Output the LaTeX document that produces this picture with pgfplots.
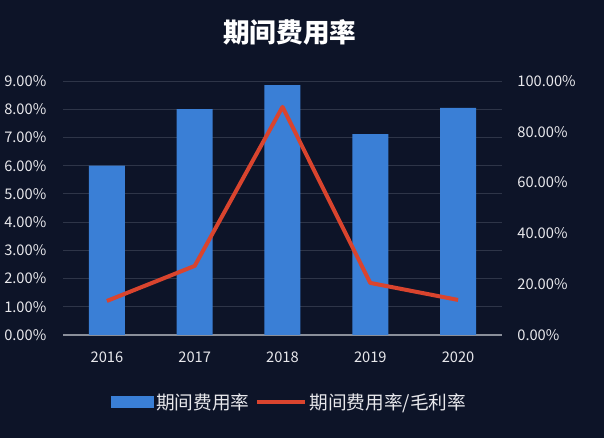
\documentclass[border=0pt]{standalone}
\usepackage{pgfplots}
\pgfplotsset{compat=1.18}
\usepackage{fontspec}
\setmainfont{Noto Sans CJK SC}
\definecolor{bg}{HTML}{0D1428}
\definecolor{barblue}{HTML}{3A7FD6}
\definecolor{linered}{HTML}{D9442E}
\definecolor{gridc}{HTML}{2E3548}
\definecolor{axisc}{HTML}{8A8F9A}
\definecolor{tickc}{HTML}{E8E8EC}

\begin{document}
\begin{tikzpicture}
% picture frame: 604x438 px at 0.75pt per px, origin at the plot's lower left corner
\path[use as bounding box, fill=bg] (-47.25pt,-77.25pt) rectangle (405.75pt,251.25pt);
\node[text=white, font=\fontsize{20}{24}\selectfont\bfseries] at (170.25pt,227.25pt) {期间费用率};

\begin{axis}[
    at={(0pt,0pt)}, anchor=south west,
    scale only axis, width=329.25pt, height=190.5pt,
    xmin=-0.5, xmax=4.5, ymin=0, ymax=9,
    axis lines*=left, axis line style={draw=none},
    axis x line*=bottom, x axis line style={draw=axisc, line width=0.8pt},
    ytick={0,1,...,9}, ymajorgrids, grid style={gridc, line width=0.7pt},
    /pgf/number format/assume math mode=true,
    yticklabel={\pgfmathprintnumber[fixed, fixed zerofill, precision=2]{\tick}\%},
    xtick={0,1,2,3,4}, xticklabels={2016,2017,2018,2019,2020},
    major tick length=0pt,
    tick label style={text=tickc, font=\fontsize{11}{13}\selectfont},
    yticklabel style={xshift=-9pt},
    xticklabel style={yshift=-9pt},
    legend style={at={(0.517,-0.265)}, anchor=center, draw=none, fill=none,
        text=tickc, font=\fontsize{14}{16}\selectfont, legend columns=2,
        /tikz/every even column/.append style={column sep=2pt}},
    legend cell align=left,
]
\addplot[ybar, bar width=27pt, fill=barblue, draw=none,
    legend image code/.code={\fill[barblue] (0pt,-4.5pt) rectangle (32pt,4.5pt);}]
  coordinates {(0,6.0)(1,8.0)(2,8.85)(3,7.12)(4,8.05)};
\addlegendentry{期间费用率}
\addlegendimage{legend image code/.code={\draw[linered, line width=3pt] (0pt,0pt) -- (36pt,0pt);}}
\addlegendentry{期间费用率/毛利率}
\end{axis}

\begin{axis}[
    at={(0pt,0pt)}, anchor=south west,
    scale only axis, width=329.25pt, height=190.5pt,
    xmin=-0.5, xmax=4.5, ymin=0, ymax=100,
    axis y line*=right, axis x line=none, axis line style={draw=none},
    ytick={0,20,...,100},
    /pgf/number format/assume math mode=true,
    yticklabel={\pgfmathprintnumber[fixed, fixed zerofill, precision=2]{\tick}\%},
    major tick length=0pt,
    tick label style={text=tickc, font=\fontsize{11}{13}\selectfont},
    yticklabel style={xshift=8pt},
]
\addplot[linered, line width=3pt, line join=round]
  coordinates {(0,13.4)(1,27.2)(2,89.8)(3,20.5)(4,13.8)};
\end{axis}
\end{tikzpicture}
\end{document}
